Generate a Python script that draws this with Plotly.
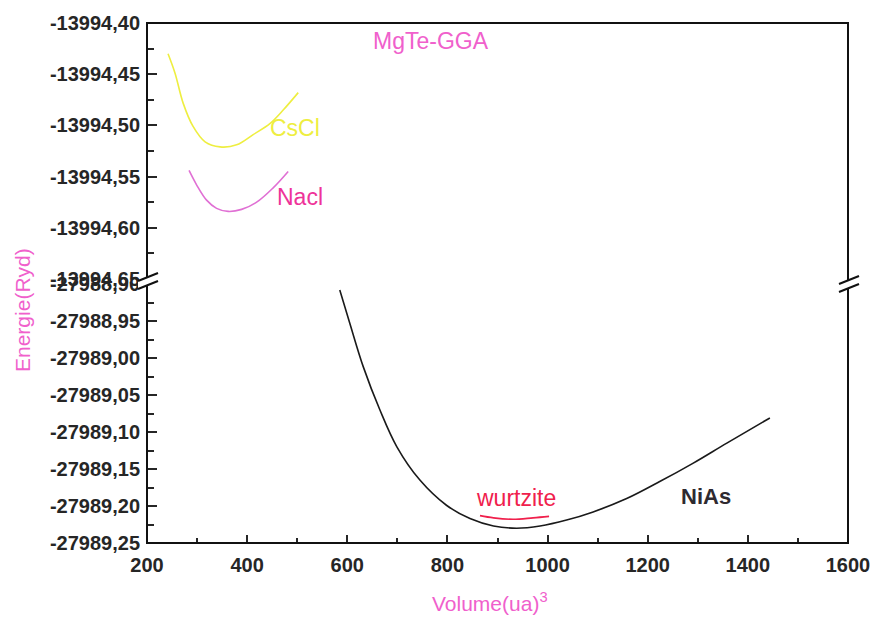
import plotly.graph_objects as go

# --- Energy-volume data (MgTe, GGA) ---
cscl_vol = [242, 256, 272, 292, 316, 346, 379, 412, 446, 472, 502]
cscl_e = [-13994.430, -13994.449, -13994.478, -13994.501, -13994.516, -13994.521,
          -13994.519, -13994.509, -13994.498, -13994.485, -13994.468]

nacl_vol = [284, 299, 319, 339, 362, 389, 419, 452, 482]
nacl_e = [-13994.544, -13994.558, -13994.573, -13994.581, -13994.584, -13994.582,
          -13994.575, -13994.561, -13994.545]

nias_vol = [585, 605, 632, 665, 699, 745, 798, 845, 892, 938, 985, 1038, 1091,
            1158, 1224, 1291, 1358, 1444]
nias_e = [-27988.908, -27988.953, -27989.012, -27989.070, -27989.120, -27989.165,
          -27989.199, -27989.217, -27989.227, -27989.230, -27989.227, -27989.219,
          -27989.208, -27989.190, -27989.167, -27989.142, -27989.115, -27989.081]

wurtz_vol = [865, 892, 931, 971, 1003]
wurtz_e = [-27989.213, -27989.216, -27989.218, -27989.216, -27989.214]

# --- Axis ticks ---
x_ticks = [200, 400, 600, 800, 1000, 1200, 1400, 1600]
top_ticks = [-13994.40, -13994.45, -13994.50, -13994.55, -13994.60, -13994.65]
top_labels = ["-13994,40", "-13994,45", "-13994,50", "-13994,55", "-13994,60", "-13994,65"]
bot_ticks = [-27988.90, -27988.95, -27989.00, -27989.05, -27989.10, -27989.15,
             -27989.20, -27989.25]
bot_labels = ["-27988,90", "-27988,95", "-27989,00", "-27989,05", "-27989,10",
              "-27989,15", "-27989,20", "-27989,25"]

FONT = "Liberation Sans, Arial, sans-serif"
TICK_COLOR = "#262626"
PINK = "#f060cc"

fig = go.Figure()
fig.add_trace(go.Scatter(x=cscl_vol, y=cscl_e, yaxis="y2", mode="lines",
                         line=dict(color="#eeee40", width=1.6, shape="spline")))
fig.add_trace(go.Scatter(x=nacl_vol, y=nacl_e, yaxis="y2", mode="lines",
                         line=dict(color="#e070d4", width=1.6, shape="spline")))
fig.add_trace(go.Scatter(x=nias_vol, y=nias_e, yaxis="y", mode="lines",
                         line=dict(color="#1a1a1a", width=1.6, shape="spline")))
fig.add_trace(go.Scatter(x=wurtz_vol, y=wurtz_e, yaxis="y", mode="lines",
                         line=dict(color="#f0204c", width=1.6, shape="spline")))

# Plot area in pixels: x 147..848, y 23..543
L, R, T, B = 147, 848, 23, 543
W, H = R - L, B - T


def px(x):
    return (x - L) / W


def py(y):
    return (B - y) / H


tick_font = dict(family=FONT, size=20, color=TICK_COLOR, weight="bold")

common_y = dict(ticks="inside", ticklen=10, tickwidth=2, tickcolor=TICK_COLOR,
                showgrid=False, zeroline=False, showline=False,
                tickfont=tick_font, ticklabelstandoff=6,
                minor=dict(ticks="inside", ticklen=7, tickwidth=2, tickcolor=TICK_COLOR,
                           dtick=0.025, showgrid=False))

fig.update_layout(
    width=874, height=618,
    margin=dict(l=L, r=874 - R, t=T, b=618 - B, autoexpand=False),
    paper_bgcolor="white", plot_bgcolor="white",
    showlegend=False,
    xaxis=dict(range=[200, 1600], tickvals=x_ticks, ticktext=[str(v) for v in x_ticks],
               ticks="inside", ticklen=8, tickwidth=2, tickcolor=TICK_COLOR,
               showgrid=False, zeroline=False, showline=False,
               tickfont=tick_font, ticklabelstandoff=8,
               minor=dict(ticks="inside", ticklen=5, tickwidth=2, tickcolor=TICK_COLOR,
                          dtick=100, showgrid=False),
               anchor="y"),
    yaxis=dict(domain=[0, py(284)], range=[-27989.25, -27988.90],
               tickvals=bot_ticks, ticktext=bot_labels, anchor="x", **common_y),
    yaxis2=dict(domain=[py(279), 1], range=[-13994.65, -13994.40],
                tickvals=top_ticks, ticktext=top_labels, anchor="x", **common_y),
)

shapes = [
    dict(type="rect", xref="paper", yref="paper", x0=0, x1=1, y0=0, y1=1,
         line=dict(color="#111111", width=2)),
]
# axis break marks on the left and right borders
for (cx, cy) in [(L, 281), (R, 284)]:
    shapes.append(dict(type="path", xref="paper", yref="paper",
                       path=f"M {px(cx-9)},{py(cy)} L {px(cx+11)},{py(cy-8)} "
                            f"L {px(cx+11)},{py(cy)} L {px(cx-9)},{py(cy+8)} Z",
                       fillcolor="white", line=dict(width=0)))
    for dy in (0, 8):
        shapes.append(dict(type="line", xref="paper", yref="paper",
                           x0=px(cx - 9), y0=py(cy + dy),
                           x1=px(cx + 11), y1=py(cy - 8 + dy),
                           line=dict(color="#111111", width=2)))
fig.update_layout(shapes=shapes)

centered = dict(showarrow=False, xanchor="center", yanchor="middle")
annotations = [
    dict(text="MgTe-GGA", x=767, y=-13994.4176, xref="x", yref="y2",
         font=dict(family=FONT, size=23, color=PINK), **centered),
    dict(text="CsCl", x=496, y=-13994.5026, xref="x", yref="y2",
         font=dict(family=FONT, size=23, color="#eeee40"), **centered),
    dict(text="Nacl", x=506, y=-13994.5704, xref="x", yref="y2",
         font=dict(family=FONT, size=23, color="#ee3399"), **centered),
    dict(text="wurtzite", x=937, y=-27989.189, xref="x", yref="y",
         font=dict(family=FONT, size=23, color="#f0204c"), **centered),
    dict(text="<b>NiAs</b>", x=1316, y=-27989.1865, xref="x", yref="y",
         font=dict(family=FONT, size=22, color="#2e2a30"), **centered),
    dict(text="Energie(Ryd)", x=px(22), y=py(310), xref="paper", yref="paper",
         textangle=-90, font=dict(family=FONT, size=21, color=PINK), **centered),
    dict(text="Volume(ua)<sup>3</sup>", x=px(490), y=py(602), xref="paper", yref="paper",
         font=dict(family=FONT, size=21, color=PINK), **centered),
]
fig.update_layout(annotations=annotations)

fig.write_html("out.html")
